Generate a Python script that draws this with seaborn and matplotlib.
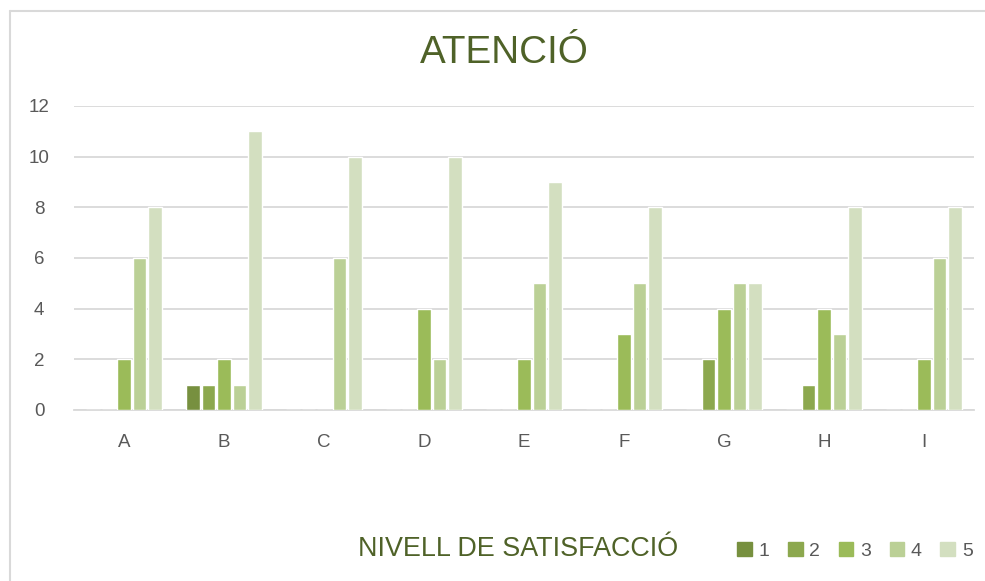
import pandas as pd
import matplotlib.pyplot as plt
import matplotlib.lines as mlines
import seaborn as sns

# dades
categories = ['A', 'B', 'C', 'D', 'E', 'F', 'G', 'H', 'I']
nivells = ['1', '2', '3', '4', '5']
nivell_1 = [0, 1, 0, 0, 0, 0, 0, 0, 0]
nivell_2 = [0, 1, 0, 0, 0, 0, 2, 1, 0]
nivell_3 = [2, 2, 0, 4, 2, 3, 4, 4, 2]
nivell_4 = [6, 1, 6, 2, 5, 5, 5, 3, 6]
nivell_5 = [8, 11, 10, 10, 9, 8, 5, 8, 8]
colors = ['#77903F', '#8CA84E', '#9BBB59', '#BBD096', '#D3DFC0']

rows = []
for nivell, vals in zip(nivells, [nivell_1, nivell_2, nivell_3, nivell_4, nivell_5]):
    for cat, v in zip(categories, vals):
        rows.append({'cat': cat, 'nivell': nivell, 'valor': v})
df = pd.DataFrame(rows)

sns.set_style('white')
plt.rcParams['font.family'] = ['Liberation Sans', 'DejaVu Sans']

fig = plt.figure(figsize=(9.85, 5.81), dpi=100)
ax = fig.add_axes([74 / 985, 1 - 410 / 581, 900 / 985, 304 / 581])

sns.barplot(data=df, x='cat', y='valor', hue='nivell', palette=colors,
            width=0.775, gap=0.14, saturation=1, ax=ax, legend=True, zorder=3)

ax.set_ylim(0, 12)
ax.set_yticks(range(0, 13, 2))
ax.set_xlim(-0.5, 8.5)
ax.yaxis.grid(True, color='#D9D9D9', linewidth=1.3, zorder=0)
ax.set_axisbelow(True)
for s in ['top', 'right', 'left']:
    ax.spines[s].set_visible(False)
ax.spines['bottom'].set_color('#D9D9D9')
ax.spines['bottom'].set_linewidth(1.3)
ax.tick_params(axis='both', length=0, labelsize=13.5, labelcolor='#595959')
ax.tick_params(axis='x', pad=17)
ax.tick_params(axis='y', pad=25)
for t in ax.get_yticklabels():
    t.set_ha('center')
ax.set_xlabel('')
ax.set_ylabel('')

# títol i etiqueta
fig.text(504 / 985, 1 - 53 / 581, 'ATENCIÓ', ha='center', va='center',
         fontsize=27.8, color='#4F6228')
fig.text(518 / 985, 1 - 549 / 581, 'NIVELL DE SATISFACCIÓ', ha='center', va='center',
         fontsize=19.4, color='#4F6228')

# llegenda
ax.legend_.remove()
handles = [plt.Rectangle((0, 0), 1, 1, color=c) for c in colors]
fig.legend(handles, nivells, loc='center', bbox_to_anchor=(855 / 985, 1 - 551 / 581),
           ncol=5, frameon=False, fontsize=14, handlelength=0.75, handleheight=0.75,
           handletextpad=0.35, columnspacing=0.95, labelcolor='#595959')

# marc
fig.add_artist(mlines.Line2D([10 / 985, 10 / 985], [0, 1 - 11 / 581], color='#D9D9D9', lw=1.5))
fig.add_artist(mlines.Line2D([10 / 985, 1], [1 - 11 / 581, 1 - 11 / 581], color='#D9D9D9', lw=1.5))

fig.savefig('out.png', dpi=100)
